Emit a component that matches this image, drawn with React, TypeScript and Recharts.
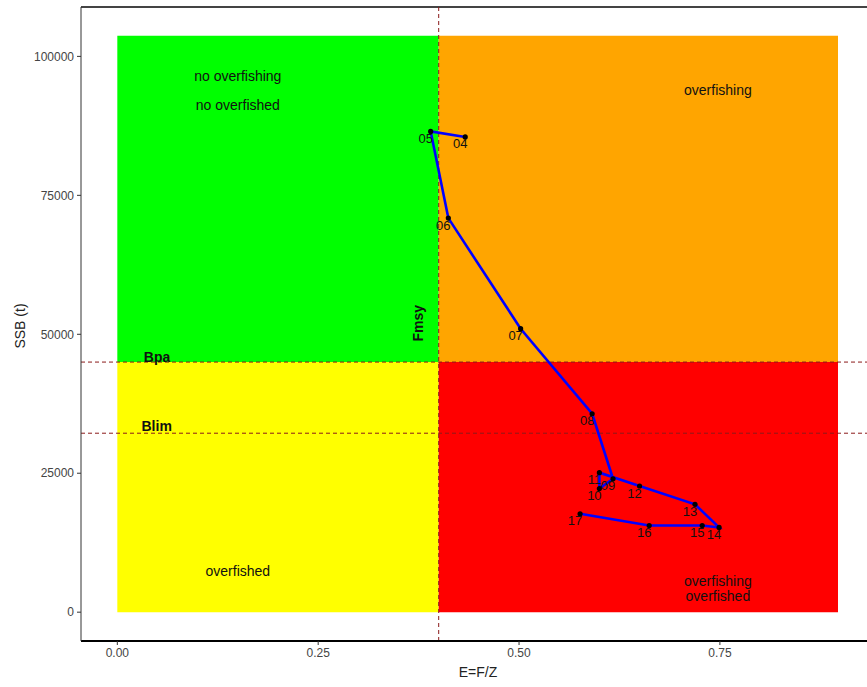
import {
  ComposedChart,
  Line,
  Scatter,
  XAxis,
  YAxis,
  ReferenceArea,
  ReferenceLine,
  LabelList,
} from 'recharts'

// years of the stock trajectory and their exploitation rate / SSB
const years = ['04', '05', '06', '07', '08', '09', '10', '11', '12', '13', '14', '15', '16', '17']
const exploitation = [0.433, 0.39, 0.412, 0.502, 0.591, 0.617, 0.6, 0.6, 0.65, 0.719, 0.749, 0.728, 0.662, 0.576]
const ssb = [85500, 86500, 70900, 51000, 35700, 24000, 22250, 25100, 22700, 19400, 15250, 15600, 15600, 17700]

// reference points
const fmsy = 0.4
const bpa = 45000
const blim = 32200
const fMax = 0.897
const ssbMax = 103700

const xTicks = [0, 0.25, 0.5, 0.75]
const yTicks = [0, 25000, 50000, 75000, 100000]

// quadrant annotations
const quadrantText = ['no overfishing', 'no overfished', 'overfishing', 'overfished', 'overfishing', 'overfished']
const quadrantF = [0.15, 0.15, 0.7475, 0.15, 0.7475, 0.7475]
const quadrantSsb = [96400, 91200, 93900, 7400, 5600, 2900]

const refText = ['Bpa', 'Blim']
const refF = [0.0495, 0.049]
const refSsb = [46000, 33500]

const trajectory = years.map((year, i) => ({ year, f: exploitation[i], ssb: ssb[i] }))
const quadrantLabels = quadrantText.map((text, i) => ({ text, f: quadrantF[i], ssb: quadrantSsb[i] }))
const refLabels = refText.map((text, i) => ({ text, f: refF[i], ssb: refSsb[i] }))
const fmsyLabel = [{ text: 'Fmsy', f: 0.374, ssb: 52000 }]

const FONT = '"Liberation Sans", Arial, sans-serif'
const X_DOMAIN = [-0.0452, 0.9331]
const Y_DOMAIN = [-5185, 108885]

const textShape = (weight: string, size: number, rotate = false) => (props: any) => {
  const { cx, cy, payload } = props
  return (
    <text
      x={cx}
      y={cy}
      textAnchor="middle"
      dominantBaseline="central"
      fontFamily={FONT}
      fontSize={size}
      fontWeight={weight}
      fill="#111"
      transform={rotate ? `rotate(-90, ${cx}, ${cy})` : undefined}
    >
      {payload.text}
    </text>
  )
}

const YearLabel = (props: any) => {
  const { x, y, value } = props
  return (
    <text
      x={x - 5}
      y={y + 7}
      textAnchor="middle"
      dominantBaseline="central"
      fontFamily={FONT}
      fontSize={13}
      fill="#111"
    >
      {value}
    </text>
  )
}

const BlackDot = (props: any) => {
  const { cx, cy, index } = props
  return <circle key={index} cx={cx} cy={cy} r={2.6} fill="#000" />
}

export default function App() {
  return (
    <div style={{ position: 'absolute', left: 0, top: 0, background: '#fff' }}>
      <ComposedChart
        width={867}
        height={687}
        data={trajectory}
        margin={{ top: 7, right: 0, bottom: 0, left: 0 }}
      >
        <XAxis
          dataKey="f"
          type="number"
          domain={X_DOMAIN}
          allowDataOverflow
          ticks={xTicks}
          tickFormatter={(v: number) => v.toFixed(2)}
          height={46}
          tickSize={4}
          tickMargin={3}
          axisLine={{ stroke: '#000', strokeWidth: 2 }}
          tickLine={{ stroke: '#333' }}
          tick={{ fill: '#444', fontSize: 12, fontFamily: FONT }}
          label={() => (
            <text x={478} y={672} textAnchor="middle" dominantBaseline="central" fontFamily={FONT} fontSize={14} fill="#222">
              E=F/Z
            </text>
          )}
        />
        <YAxis
          dataKey="ssb"
          type="number"
          domain={Y_DOMAIN}
          allowDataOverflow
          ticks={yTicks}
          width={81}
          tickSize={4}
          tickMargin={3}
          axisLine={{ stroke: '#333', strokeWidth: 1 }}
          tickLine={{ stroke: '#333' }}
          tick={{ fill: '#444', fontSize: 12, fontFamily: FONT }}
          label={() => (
            <text x={20} y={326} textAnchor="middle" dominantBaseline="central" fontFamily={FONT} fontSize={14} fill="#222" transform="rotate(-90, 20, 326)">
              SSB (t)
            </text>
          )}
        />

        <ReferenceArea x1={0} x2={fmsy} y1={bpa} y2={ssbMax} fill="#00ff00" fillOpacity={1} stroke="none" />
        <ReferenceArea x1={fmsy} x2={fMax} y1={bpa} y2={ssbMax} fill="#ffa500" fillOpacity={1} stroke="none" />
        <ReferenceArea x1={0} x2={fmsy} y1={0} y2={bpa} fill="#ffff00" fillOpacity={1} stroke="none" />
        <ReferenceArea x1={fmsy} x2={fMax} y1={0} y2={bpa} fill="#ff0000" fillOpacity={1} stroke="none" />

        <ReferenceLine y={Y_DOMAIN[1]} stroke="#444" strokeWidth={2} ifOverflow="visible" />
        <ReferenceLine y={bpa} stroke="#8b1a1a" strokeDasharray="4 3" />
        <ReferenceLine y={blim} stroke="#8b1a1a" strokeDasharray="4 3" />
        <ReferenceLine x={fmsy} stroke="#8b1a1a" strokeDasharray="4 3" />

        <Scatter data={quadrantLabels} dataKey="ssb" shape={textShape('normal', 14)} isAnimationActive={false} />
        <Scatter data={refLabels} dataKey="ssb" shape={textShape('bold', 14)} isAnimationActive={false} />
        <Scatter data={fmsyLabel} dataKey="ssb" shape={textShape('bold', 14, true)} isAnimationActive={false} />

        <Line
          dataKey="ssb"
          type="linear"
          stroke="#0000ff"
          strokeWidth={2.6}
          dot={BlackDot}
          activeDot={false}
          isAnimationActive={false}
        >
          <LabelList dataKey="year" content={YearLabel} />
        </Line>
      </ComposedChart>
    </div>
  )
}
